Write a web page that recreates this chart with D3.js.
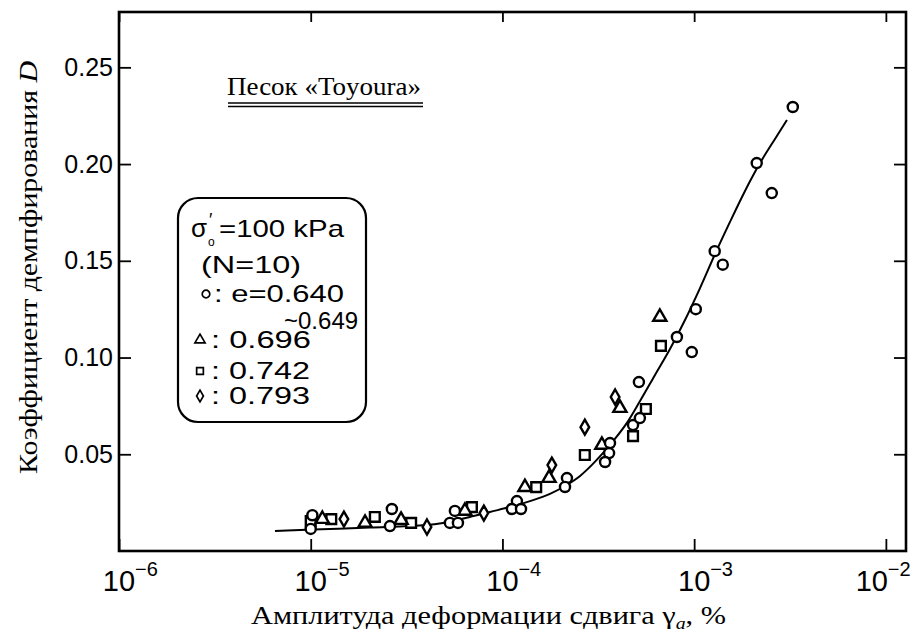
<!DOCTYPE html>
<html>
<head>
<meta charset="utf-8">
<script src="https://cdn.jsdelivr.net/npm/d3@7"></script>
<style>
body { margin: 0; background: #fff; }
text { fill: #000; }
</style>
</head>
<body>
<script>
var circleGamma = [1.02e-5, 1.0e-5, 2.65e-5, 2.59e-5, 5.65e-5, 5.32e-5, 5.86e-5, 1.19e-4, 1.12e-4, 1.25e-4, 2.17e-4, 2.12e-4, 3.64e-4, 3.6e-4, 3.43e-4, 4.8e-4, 5.21e-4, 5.15e-4, 8.13e-4, 9.72e-4, 1.02e-3, 1.28e-3, 1.41e-3, 2.12e-3, 2.54e-3, 3.27e-3]
var circleD = [0.0185, 0.0114, 0.0217, 0.0129, 0.0207, 0.0145, 0.0145, 0.0258, 0.0217, 0.0217, 0.0377, 0.0331, 0.0558, 0.0506, 0.0460, 0.0651, 0.0687, 0.0873, 0.1106, 0.1028, 0.125, 0.155, 0.148, 0.2005, 0.185, 0.2295]

var triangleGamma = [1.15e-5, 1.92e-5, 2.96e-5, 6.37e-5, 1.31e-4, 1.75e-4, 3.3e-4, 4.1e-4, 6.62e-4]
var triangleD = [0.0165, 0.0145, 0.016, 0.0207, 0.033, 0.0377, 0.0548, 0.0739, 0.121]

var squareGamma = [1.0e-5, 1.28e-5, 2.16e-5, 3.34e-5, 6.93e-5, 1.5e-4, 2.69e-4, 4.8e-4, 5.6e-4, 6.71e-4]
var squareD = [0.0155, 0.0165, 0.0176, 0.0145, 0.0227, 0.033, 0.0496, 0.0594, 0.0734, 0.106]

var diamondGamma = [1.49e-5, 4.04e-5, 8.0e-5, 1.81e-4, 2.69e-4, 3.87e-4]
var diamondD = [0.0165, 0.0124, 0.0196, 0.0444, 0.064, 0.0796]

// fitted curve
var fitGamma = [6.51e-6, 1.03e-5, 2.04e-5, 4.04e-5, 4.9e-5, 6.77e-5, 8.61e-5, 1.095e-4, 1.392e-4, 1.77e-4, 2.12e-4, 2.54e-4, 2.93e-4, 3.35e-4, 3.86e-4, 4.46e-4, 5.22e-4, 6.25e-4, 7.48e-4, 8.96e-4, 1.073e-3, 1.285e-3, 1.538e-3, 1.842e-3, 2.205e-3, 2.64e-3, 3.05e-3]
var fitD = [0.0103, 0.0111, 0.0121, 0.0134, 0.0145, 0.0176, 0.0202, 0.0227, 0.0258, 0.0295, 0.0336, 0.0388, 0.0445, 0.0507, 0.0579, 0.0662, 0.0775, 0.0910, 0.1044, 0.1194, 0.1359, 0.1535, 0.1701, 0.1861, 0.2005, 0.2130, 0.2228]

var xTicks = [1e-6, 1e-5, 1e-4, 1e-3, 1e-2]
var xTickExp = ["\u22126", "\u22125", "\u22124", "\u22123", "\u22122"]
var yTicks = [0.05, 0.10, 0.15, 0.20, 0.25]

var legendLabels = [": e=0.640", ": 0.696", ": 0.742", ": 0.793"]

var W = 913, H = 633
var svg = d3.select("body").append("svg").attr("width", W).attr("height", H)

var x = d3.scaleLog().domain([1e-6, Math.pow(10, -1.895)]).range([119, 906])
var y = d3.scaleLinear().domain([0, 0.2786]).range([551, 12])

// frame
svg.append("rect")
	.attr("x", 119).attr("y", 12)
	.attr("width", 906 - 119).attr("height", 551 - 12)
	.attr("fill", "none").attr("stroke", "#000").attr("stroke-width", 2.6)

// axes (ticks inward)
var gl = svg.append("g").attr("transform", "translate(119,0)")
	.call(d3.axisLeft(y).tickValues(yTicks).tickSize(-12).tickPadding(6).tickFormat(d3.format(".2f")))
var gr = svg.append("g").attr("transform", "translate(906,0)")
	.call(d3.axisRight(y).tickValues(yTicks).tickSize(-12).tickFormat(""))
var gb = svg.append("g").attr("transform", "translate(0,551)")
	.call(d3.axisBottom(x).tickValues(xTicks).tickSize(-12).tickFormat(""))
var gt = svg.append("g").attr("transform", "translate(0,12)")
	.call(d3.axisTop(x).tickValues(xTicks).tickSize(-10).tickFormat(""))

svg.selectAll(".domain").remove()
svg.selectAll(".tick line").attr("stroke", "#000").attr("stroke-width", 1.8)
gl.selectAll(".tick text")
	.attr("font-family", "'Liberation Sans', Arial, sans-serif")
	.attr("font-size", 25).attr("fill", "#000")

// x tick labels 10^n (last one pulled left to stay inside the page)
function labelShift(i){ return i == xTicks.length - 1 ? -14 : 0 }
svg.append("g").selectAll("text")
	.data(xTicks)
	.enter()
	.append("text")
	.attr("font-family", "'Liberation Sans', Arial, sans-serif")
	.attr("x", function(d, i){ return x(d) + labelShift(i) })
	.attr("y", 591)
	.attr("font-size", 29)
	.attr("text-anchor", "middle")
	.text("10")
svg.append("g").selectAll("text")
	.data(xTicks)
	.enter()
	.append("text")
	.attr("font-family", "'Liberation Sans', Arial, sans-serif")
	.attr("x", function(d, i){ return x(d) + 16 + labelShift(i) })
	.attr("y", 576)
	.attr("font-size", 20)
	.text(function(d, i){ return xTickExp[i] })

// fitted line
var fit = fitGamma.map(function(g, i){ return [g, fitD[i]] })
svg.append("path")
	.datum(fit)
	.attr("fill", "none")
	.attr("stroke", "#000")
	.attr("stroke-width", 2)
	.attr("d", d3.line()
		.x(function(d){ return x(d[0]) })
		.y(function(d){ return y(d[1]) })
		.curve(d3.curveMonotoneX))

// markers
function drawSeries(gs, ds, type, size){
	var pts = gs.map(function(g, i){ return [g, ds[i]] })
	svg.append("g").selectAll("path")
		.data(pts)
		.enter()
		.append("path")
		.attr("transform", function(d){ return "translate(" + x(d[0]) + "," + y(d[1]) + ")" })
		.attr("d", d3.symbol().type(type).size(size))
		.attr("fill", "#fff")
		.attr("stroke", "#000")
		.attr("stroke-width", 2.4)
}
drawSeries(squareGamma, squareD, d3.symbolSquare, 95)
drawSeries(triangleGamma, triangleD, d3.symbolTriangle, 75)
drawSeries(diamondGamma, diamondD, d3.symbolDiamond, 65)
drawSeries(circleGamma, circleD, d3.symbolCircle, 80)

// title with double underline
svg.append("text")
	.attr("x", 227).attr("y", 95)
	.attr("font-family", "'Liberation Serif', 'Times New Roman', serif")
	.attr("font-size", 26)
	.attr("textLength", 194).attr("lengthAdjust", "spacingAndGlyphs")
	.text("Песок «Toyoura»")
svg.append("line").attr("x1", 228).attr("x2", 423).attr("y1", 103).attr("y2", 103).attr("stroke", "#000").attr("stroke-width", 1.3)
svg.append("line").attr("x1", 228).attr("x2", 423).attr("y1", 106.5).attr("y2", 106.5).attr("stroke", "#000").attr("stroke-width", 1.3)

// legend box
var lg = svg.append("g").attr("font-family", "'Liberation Sans', Arial, sans-serif").attr("font-size", 24)
lg.append("rect")
	.attr("x", 178).attr("y", 198).attr("width", 188).attr("height", 224)
	.attr("rx", 20).attr("ry", 20)
	.attr("fill", "#fff").attr("stroke", "#000").attr("stroke-width", 2.2)

// sigma'_0 = 100 kPa
lg.append("text").attr("x", 191).attr("y", 237).attr("font-size", 26).text("σ")
lg.append("text").attr("x", 208).attr("y", 246).attr("font-size", 12).text("o")
lg.append("text").attr("x", 209).attr("y", 226).attr("font-size", 18).text("′")
lg.append("text").attr("x", 219).attr("y", 237)
	.attr("textLength", 125).attr("lengthAdjust", "spacingAndGlyphs").text("=100 kPa")

lg.append("text").attr("x", 201).attr("y", 273)
	.attr("textLength", 100).attr("lengthAdjust", "spacingAndGlyphs").text("(N=10)")

var legTypes = [d3.symbolCircle, d3.symbolTriangle, d3.symbolSquare, d3.symbolDiamond]
var legRows = [302, 348, 379, 404]
var legTextX = [214, 211, 211, 211]
var legTextLen = [130, 100, 99, 99]
legendLabels.forEach(function(lab, i){
	lg.append("path")
		.attr("transform", "translate(" + (i == 0 ? 206 : 200) + "," + (legRows[i] - 8) + ")")
		.attr("d", d3.symbol().type(legTypes[i]).size(i == 3 ? 40 : 45))
		.attr("fill", "#fff").attr("stroke", "#000").attr("stroke-width", 1.7)
	lg.append("text").attr("x", legTextX[i]).attr("y", legRows[i])
		.attr("font-size", i == 0 ? 23 : 24)
		.attr("textLength", legTextLen[i]).attr("lengthAdjust", "spacingAndGlyphs")
		.text(lab)
})
// second line of the void-ratio range
lg.append("text").attr("x", 284).attr("y", 329)
	.attr("font-size", 24)
	.text("~0.649")

// axis titles
var xt = svg.append("text")
	.attr("x", 251).attr("y", 624)
	.attr("font-family", "'Liberation Serif', 'Times New Roman', serif")
	.attr("font-size", 26)
	.attr("textLength", 475).attr("lengthAdjust", "spacingAndGlyphs")
xt.append("tspan").text("Амплитуда деформации сдвига γ")
xt.append("tspan").attr("font-style", "italic").attr("font-size", 17).attr("dy", 5).text("a")
xt.append("tspan").attr("dy", -5).text(", %")

var yt = svg.append("text")
	.attr("transform", "translate(37,474) rotate(-90)")
	.attr("font-family", "'Liberation Serif', 'Times New Roman', serif")
	.attr("font-size", 26)
	.attr("textLength", 413).attr("lengthAdjust", "spacingAndGlyphs")
yt.append("tspan").text("Коэффициент демпфирования ")
yt.append("tspan").attr("font-style", "italic").text("D")
</script>
</body>
</html>
